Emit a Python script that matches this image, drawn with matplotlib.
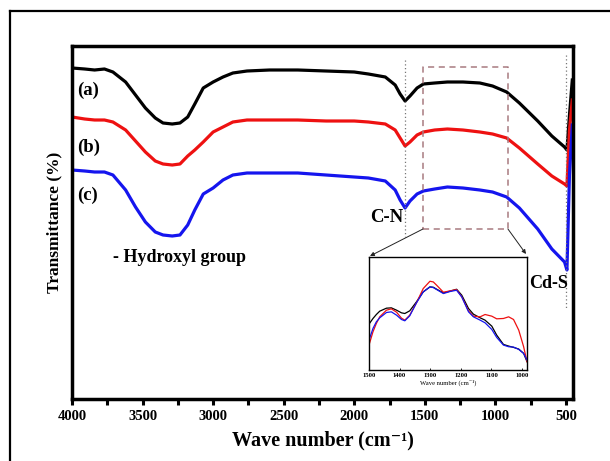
import matplotlib
matplotlib.use("Agg")
import matplotlib.pyplot as plt
from matplotlib.lines import Line2D
import numpy as np

plt.rcParams['font.family'] = ['Liberation Serif', 'DejaVu Serif']
plt.rcParams['font.weight'] = 'bold'
plt.rcParams['mathtext.fontset'] = 'custom'
plt.rcParams['mathtext.rm'] = 'Liberation Serif:bold'
plt.rcParams['mathtext.bf'] = 'Liberation Serif:bold'

# ---- main spectra (wavenumber, arbitrary transmittance) ----
wn = [4000, 3910, 3840, 3770, 3710, 3620, 3550, 3480, 3410, 3355, 3290, 3235, 3180,
      3130, 3070, 3000, 2930, 2860, 2760, 2600, 2400, 2200, 2000, 1900, 1780, 1710,
      1675, 1640, 1605, 1555, 1510, 1430, 1340, 1230, 1110, 1020, 920, 830, 700, 600,
      510, 493, 475, 455]
px_a = [68, 69, 70, 69, 72, 82, 95, 108, 118, 123, 124, 123, 117, 104, 88, 82, 77, 73,
        71, 70, 70, 71, 72, 74, 77, 85, 94, 101, 96, 88, 84, 83, 82, 82, 83, 86, 92, 103,
        121, 136, 147, 150, 115, 80]
px_b = [117, 119, 120, 120, 122, 130, 141, 152, 161, 164, 165, 164, 156, 150, 142, 132,
        127, 122, 120, 120, 120, 121, 121, 122, 124, 130, 138, 146, 142, 135, 132, 130,
        129, 130, 132, 134, 138, 148, 164, 176, 184, 186, 130, 100]
px_c = [170, 171, 172, 172, 175, 190, 207, 222, 232, 235, 236, 235, 225, 210, 194, 188,
        180, 175, 173, 173, 173, 175, 177, 178, 181, 190, 200, 208, 201, 194, 191, 189,
        187, 188, 190, 192, 197, 208, 229, 249, 262, 270, 175, 125]
trans_a = [399 - v for v in px_a]
trans_b = [399 - v for v in px_b]
trans_c = [399 - v for v in px_c]

# ---- inset spectra ----
wn_in = [1500, 1487, 1476, 1465, 1443, 1427, 1410, 1394, 1383, 1367, 1345, 1323, 1301,
         1290, 1279, 1257, 1236, 1214, 1197, 1175, 1159, 1137, 1121, 1099, 1083, 1061,
         1044, 1028, 1011, 995, 984]
zin_a = [222, 205, 193, 183, 174, 173, 180, 188, 190, 182, 155, 125, 110, 111, 117, 128,
         123, 117, 135, 175, 192, 203, 210, 228, 255, 283, 288, 292, 297, 310, 335]
zin_b = [285, 245, 220, 200, 180, 176, 186, 204, 210, 195, 158, 115, 93, 95, 105, 126,
         122, 118, 140, 182, 198, 200, 193, 198, 206, 205, 200, 208, 240, 290, 335]
zin_c = [270, 235, 215, 203, 187, 185, 195, 208, 212, 197, 158, 125, 110, 112, 118, 130,
         124, 120, 140, 185, 200, 210, 218, 238, 262, 285, 290, 291, 298, 310, 330]
tin_a = [360 - v for v in zin_a]
tin_b = [360 - v for v in zin_b]
tin_c = [360 - v for v in zin_c]

xticks = [4000, 3500, 3000, 2500, 2000, 1500, 1000, 500]
inset_ticks = [1500, 1400, 1300, 1200, 1100, 1000]

W, H = 610, 461
fig = plt.figure(figsize=(6.1, 4.61), dpi=100)

# outer frame
fig.add_artist(Line2D([10 / W, 10 / W], [0, 1 - 11 / H], color='black', lw=1.6,
                      transform=fig.transFigure))
fig.add_artist(Line2D([10 / W, 1], [1 - 11 / H, 1 - 11 / H], color='black', lw=1.6,
                      transform=fig.transFigure))

ax = fig.add_axes([72 / W, 1 - 399 / H, (573 - 72) / W, (399 - 46) / H])
black, red, blue = '#000000', '#ee1111', '#1515ee'
ax.plot(wn, trans_a, color=black, lw=2.3)
ax.plot(wn, trans_b, color=red, lw=2.3)
ax.plot(wn, trans_c, color=blue, lw=2.3)
ax.set_xlim(4000, 450)
ax.set_ylim(0, 353)
ax.set_xticks(xticks)
ax.set_xticks([3750, 3250, 2750, 2250, 1750, 1250, 750], minor=True)
ax.set_yticks([])
ax.tick_params(axis='x', which='both', direction='out', length=4, width=2.2,
               labelsize=10.5, pad=4)
for lab in ax.get_xticklabels():
    lab.set_fontweight('bold')
for s in ax.spines.values():
    s.set_linewidth(2.5)
ax.set_xlabel('Wave number (cm\u207b\u00b9)', fontsize=14.5, fontweight='bold',
              labelpad=5)
ax.set_ylabel('Transmittance (%)', fontsize=12.5, fontweight='bold', labelpad=7)

# dotted markers
ax.plot([1641, 1641], [339, 162], ls=(0, (1, 2)), color='#777777', lw=0.9)
ax.plot([500, 500], [344, 89], ls=(0, (1, 2)), color='#777777', lw=0.9)

# dashed rectangle
rx0, rx1, ry0, ry1 = 1513, 911, 170, 332
ax.plot([rx0, rx1, rx1, rx0, rx0], [ry0, ry0, ry1, ry1, ry0], ls=(0, (4, 3)),
        color='#a87a80', lw=1.1)

# labels
ax.text(3965, 309, '(a)', fontsize=13.5, fontweight='bold', ha='left', va='center')
ax.text(3965, 252, '(b)', fontsize=13.5, fontweight='bold', ha='left', va='center')
ax.text(3965, 204, '(c)', fontsize=13.5, fontweight='bold', ha='left', va='center')
ax.text(3710, 142, '- Hydroxyl group', fontsize=13, fontweight='bold', ha='left',
        va='center')
ax.text(1768, 181, 'C-N', fontsize=13.5, fontweight='bold', ha='center', va='center')
ax.text(620, 116, 'Cd-S', fontsize=13, fontweight='bold', ha='center', va='center')

# inset
ix0, ix1, iy0, iy1 = 369, 527, 257, 370
axin = fig.add_axes([ix0 / W, 1 - iy1 / H, (ix1 - ix0) / W, (iy1 - iy0) / H])
axin.plot(wn_in, tin_a, color=black, lw=0.9)
axin.plot(wn_in, tin_b, color=red, lw=0.9)
axin.plot(wn_in, tin_c, color=blue, lw=0.9)
axin.set_xlim(1500, 984)
axin.set_ylim(0, 340)
axin.set_yticks([])
axin.set_xticks(inset_ticks)
axin.tick_params(axis='x', direction='in', length=1.5, width=0.6, labelsize=4.8, pad=2)
for s in axin.spines.values():
    s.set_linewidth(1.0)
axin.set_xlabel('Wave number (cm\u207b\u00b9)', fontsize=4.8, labelpad=1.5)

# connection arrows
ax.annotate('', xy=(ix0 + 1, H - iy0 + 1), xycoords='figure pixels',
            xytext=(rx0, ry0), textcoords='data',
            arrowprops=dict(arrowstyle='-|>', color='#222222', lw=0.7,
                            mutation_scale=6, shrinkA=0, shrinkB=0))
ax.annotate('', xy=(ix1 - 1, H - iy0 + 3), xycoords='figure pixels',
            xytext=(rx1, ry0), textcoords='data',
            arrowprops=dict(arrowstyle='-|>', color='#222222', lw=0.7,
                            mutation_scale=6, shrinkA=0, shrinkB=0))

fig.savefig('out.png', dpi=100)
